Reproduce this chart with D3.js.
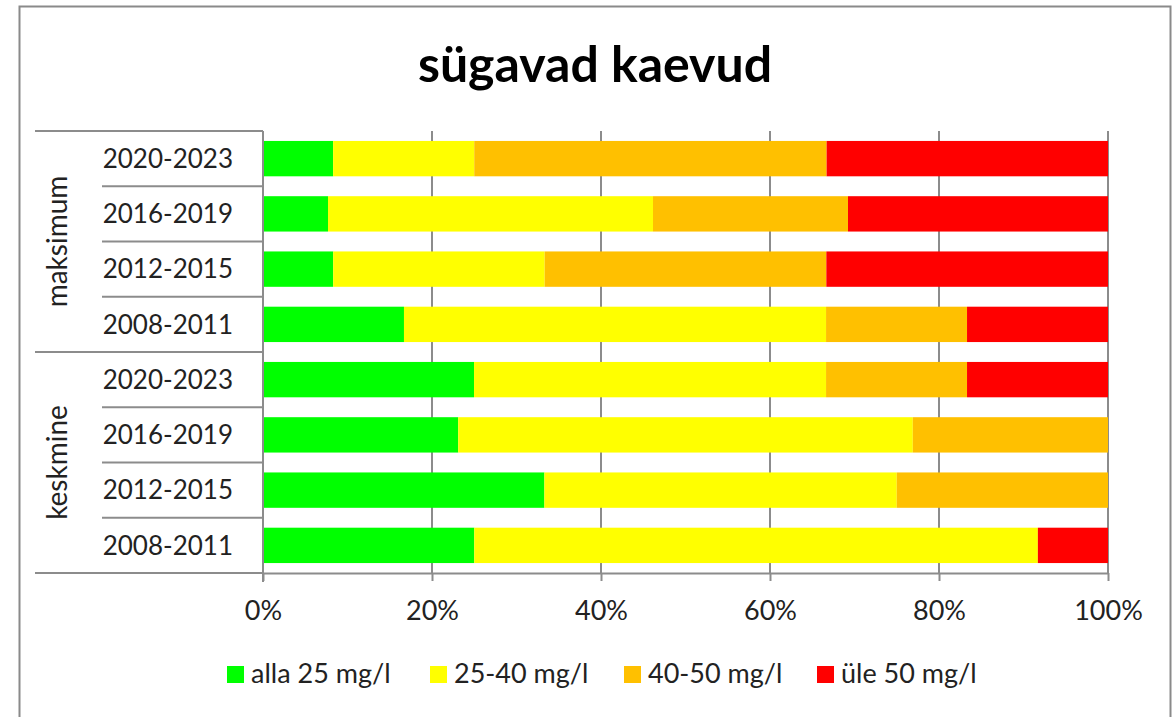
<!DOCTYPE html>
<html>
<head>
<meta charset="utf-8">
<script src="https://cdn.jsdelivr.net/npm/d3@7"></script>
<style>
  body { margin: 0; background: #fff; }
  svg { display: block; font-family: Lato, "Open Sans", sans-serif; }
</style>
</head>
<body>
<svg id="chart"></svg>
<script>
const groups = ["maksimum", "keskmine"];
const periods = ["2020-2023", "2016-2019", "2012-2015", "2008-2011"];
const seriesNames = ["alla 25 mg/l", "25-40 mg/l", "40-50 mg/l", "üle 50 mg/l"];
const colors = ["#00ff00", "#ffff00", "#ffc000", "#ff0000"];
const xTicks = [0, 0.2, 0.4, 0.6, 0.8, 1];

// shares per row, top to bottom (maksimum first, then keskmine)
const alla25 = [8.3, 7.7, 8.3, 16.7, 25.0, 23.1, 33.3, 25.0];
const v25_40 = [16.7, 38.5, 25.0, 50.0, 41.7, 53.8, 41.7, 66.7];
const v40_50 = [41.7, 23.1, 33.3, 16.7, 16.7, 23.1, 25.0, 0];
const yle50 = [33.3, 30.8, 33.3, 16.7, 16.7, 0, 0, 8.3];

const width = 1176, height = 717;
const svg = d3.select("#chart").attr("width", width).attr("height", height);

// table for the stack
const rows = [];
groups.forEach((g, gi) => {
    periods.forEach((p, pi) => {
        const i = gi * periods.length + pi;
        const total = alla25[i] + v25_40[i] + v40_50[i] + yle50[i];
        rows.push({
            key: g + "|" + p, group: g, period: p,
            [seriesNames[0]]: alla25[i] / total,
            [seriesNames[1]]: v25_40[i] / total,
            [seriesNames[2]]: v40_50[i] / total,
            [seriesNames[3]]: yle50[i] / total
        });
    });
});

const plotLeft = 263, plotRight = 1108, plotTop = 131, plotBottom = 573;

const x = d3.scaleLinear().domain([0, 1]).range([plotLeft, plotRight]);
const y = d3.scaleBand()
    .domain(rows.map(d => d.key))
    .range([plotTop, plotBottom])
    .paddingInner(0.36)
    .paddingOuter(0.18);

// outer frame
svg.append("rect")
    .attr("x", 19.5).attr("y", 6.5)
    .attr("width", 1151).attr("height", 720)
    .attr("fill", "none").attr("stroke", "#8a8a8a").attr("stroke-width", 2);

// title
svg.append("text")
    .attr("x", 595).attr("y", 82)
    .attr("text-anchor", "middle")
    .attr("font-size", 50).attr("font-weight", "bold")
    .attr("fill", "#000")
    .text("sügavad kaevud");

// vertical gridlines
svg.append("g")
    .selectAll("line")
    .data(xTicks.slice(1))
    .join("line")
    .attr("x1", d => x(d)).attr("x2", d => x(d))
    .attr("y1", plotTop).attr("y2", plotBottom)
    .attr("stroke", "#8c8c8c").attr("stroke-width", 2);

// bars
const stack = d3.stack().keys(seriesNames);
const layers = stack(rows);

svg.append("g")
    .selectAll("g")
    .data(layers)
    .join("g")
    .attr("fill", (d, i) => colors[i])
    .selectAll("rect")
    .data(d => d)
    .join("rect")
    .attr("x", d => x(d[0]))
    .attr("y", d => y(d.data.key))
    .attr("width", d => x(d[1]) - x(d[0]))
    .attr("height", y.bandwidth());

// x axis
const xAxis = d3.axisBottom(x)
    .tickValues(xTicks)
    .tickFormat(d3.format(".0%"))
    .tickSizeInner(8)
    .tickSizeOuter(0)
    .tickPadding(20);

const gx = svg.append("g")
    .attr("transform", `translate(0,${plotBottom})`)
    .call(xAxis);
gx.select(".domain").attr("stroke", "#8c8c8c").attr("stroke-width", 2);
gx.selectAll(".tick line").attr("stroke", "#8c8c8c").attr("stroke-width", 2);
gx.selectAll(".tick text")
    .attr("font-size", 27).attr("fill", "#222")
    .attr("font-family", "Lato, sans-serif");

// category axis (two levels)
const step = y.step();
const edge = key => y(key) - y.paddingOuter() * step;
const catAxis = svg.append("g").attr("stroke", "#8c8c8c").attr("stroke-width", 2);

catAxis.append("line")
    .attr("x1", plotLeft).attr("x2", plotLeft)
    .attr("y1", plotTop).attr("y2", plotBottom + 9);

rows.forEach((d, i) => {
    const yy = edge(d.key);
    const isGroupStart = i % periods.length === 0;
    catAxis.append("line")
        .attr("x1", isGroupStart ? 35 : 102).attr("x2", plotLeft)
        .attr("y1", yy).attr("y2", yy);
});
catAxis.append("line")
    .attr("x1", 35).attr("x2", plotLeft)
    .attr("y1", plotBottom).attr("y2", plotBottom);

svg.append("g")
    .selectAll("text")
    .data(rows)
    .join("text")
    .attr("x", 233)
    .attr("y", d => y(d.key) + y.bandwidth() / 2)
    .attr("dy", "0.36em")
    .attr("text-anchor", "end")
    .attr("font-size", 26).attr("fill", "#222")
    .text(d => d.period);

svg.append("g")
    .selectAll("text")
    .data(groups)
    .join("text")
    .attr("transform", (g, gi) => {
        const first = rows[gi * periods.length].key;
        const last = rows[gi * periods.length + periods.length - 1].key;
        const cy = (edge(first) + edge(last) + step) / 2;
        return `translate(57,${cy}) rotate(-90)`;
    })
    .attr("dy", "0.36em")
    .attr("text-anchor", "middle")
    .attr("font-size", 28).attr("fill", "#222")
    .text(g => g);

// legend
const legendX = [227, 430, 624, 817];
const legend = svg.append("g")
    .selectAll("g")
    .data(seriesNames)
    .join("g")
    .attr("transform", (d, i) => `translate(${legendX[i]},666)`);

legend.append("rect")
    .attr("width", 17).attr("height", 17)
    .attr("fill", (d, i) => colors[i]);

legend.append("text")
    .attr("x", 24).attr("y", 17)
    .attr("font-size", 27).attr("fill", "#222")
    .text(d => d);
</script>
</body>
</html>
